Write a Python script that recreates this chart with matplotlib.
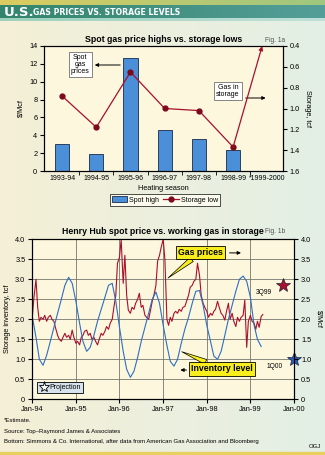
import numpy as np
import pandas as pd
import matplotlib
matplotlib.use('Agg')
import matplotlib.pyplot as plt
import matplotlib.dates as mdates
from matplotlib.lines import Line2D

plt.rcParams['font.family'] = ['Liberation Sans', 'DejaVu Sans']
plt.rcParams['font.size'] = 5.3

# верхний график: пики цены и минимумы запасов по сезонам
seasons = ['1993-94', '1994-95', '1995-96', '1996-97', '1997-98', '1998-99', '*1999-2000']
spot_high = [3.0, 1.9, 12.7, 4.6, 3.6, 2.4]
storage_low = [0.88, 1.18, 0.65, 1.00, 1.02, 1.37]
storage_est = 0.40

# нижний график: цена Henry Hub (1-е и 15-е число месяца), с янв. 1994
price = [
    2.05, 2.55, 3.00, 2.30, 1.95, 2.05, 2.00, 2.10, 1.95, 2.05, 2.10, 2.00,
    1.95, 1.78, 1.60, 1.50, 1.45, 1.55, 1.65, 1.55, 1.60, 1.50, 1.73, 1.55,
    1.40, 1.45, 1.36, 1.55, 1.60, 1.70, 1.73, 1.60, 1.65, 1.50, 1.55, 1.45,
    1.36, 1.50, 1.65, 1.60, 1.70, 1.82, 1.75, 1.90, 2.00, 2.30, 2.60, 3.40,
    3.55, 4.00, 2.90, 3.60, 2.60, 2.23, 2.15, 2.30, 2.25, 2.40, 2.50, 2.65,
    2.30, 2.35, 2.10, 2.05, 2.00, 2.20, 2.45, 2.60, 2.85, 3.45, 3.60, 3.80,
    4.00, 3.50, 2.00, 1.85, 2.05, 1.95, 2.15, 2.20, 2.15, 2.25, 2.20, 2.30,
    2.32, 2.45, 2.60, 2.80, 2.85, 2.95, 3.00, 3.40, 3.10, 2.60, 2.40, 2.30,
    2.20, 2.05, 2.15, 2.10, 2.20, 2.25, 2.45, 2.30, 2.15, 2.10, 1.98, 2.20,
    2.40, 2.00, 2.15, 1.95, 1.82, 2.05, 1.95, 2.05, 2.10, 2.48, 1.30, 1.95,
    2.10, 1.95, 1.90, 1.75, 1.95, 1.80, 2.07, 2.12,
]
# запасы газа в хранилищах, tcf (1-е число месяца), с янв. 1994
storage = [
    2.07, 1.55, 1.00, 0.85, 1.10, 1.45, 1.80, 2.15, 2.50, 2.85, 3.05, 2.90,
    2.45, 1.90, 1.45, 1.20, 1.30, 1.60, 1.95, 2.25, 2.55, 2.85, 2.90, 2.45,
    1.80, 1.20, 0.75, 0.55, 0.70, 1.05, 1.45, 1.80, 2.15, 2.50, 2.68, 2.40,
    1.85, 1.35, 0.95, 0.83, 1.00, 1.40, 1.75, 2.05, 2.40, 2.70, 2.72, 2.35,
    1.85, 1.45, 1.08, 1.00, 1.20, 1.60, 2.00, 2.35, 2.70, 3.00, 3.08, 2.95,
    2.55, 1.85, 1.50, 1.32,
]
price_proj = ('1999-10-01', 2.85, '3Q99')
storage_proj = ('2000-01-01', 1.00, '1Q00')

RED = '#A8102C'
BLUE = '#2C6FC4'
CREAM = '#FDF7DE'

fig = plt.figure(figsize=(3.25, 4.55), dpi=100)

# фон
bg = fig.add_axes([0, 0, 1, 1], zorder=-10)
gx = np.linspace(0, 1, 200)
c1 = np.array([0.96, 0.94, 0.84])
c2 = np.array([0.89, 0.94, 0.90])
grad = c1[None, None, :] * (1 - gx[None, :, None]) + c2[None, None, :] * gx[None, :, None]
bg.imshow(np.repeat(grad, 10, axis=0), aspect='auto', extent=[0, 1, 0, 1])
bg.axis('off')

# шапка
ban = fig.add_axes([0, 1 - 21 / 455, 1, 21 / 455], zorder=-5)
rows = np.zeros((21, 200, 3))
for i in range(21):
    if i < 5:
        a = np.array([0.86, 0.80, 0.38]); b = np.array([0.62, 0.78, 0.50])
    elif i < 18:
        a = np.array([0.20, 0.52, 0.42]); b = np.array([0.33, 0.62, 0.60])
    else:
        a = np.array([0.62, 0.82, 0.74]); b = np.array([0.75, 0.88, 0.85])
    rows[i] = a[None, :] * (1 - gx[:, None]) + b[None, :] * gx[:, None]
ban.imshow(rows, aspect='auto', extent=[0, 1, 0, 1])
ban.axis('off')
fig.text(4 / 325, 1 - 12 / 455, 'U.S.', color='white', fontsize=9.5,
         fontweight='bold', va='center', family='DejaVu Sans')
fig.text(33 / 325, 1 - 12.5 / 455, 'GAS PRICES VS. STORAGE LEVELS', color='white',
         fontsize=5.6, fontweight='bold', va='center', family='DejaVu Sans')
fig.patches.append(plt.Rectangle((0, 0), 1, 3 / 455, transform=fig.transFigure,
                                 color='#E8D060', zorder=-4))

# ---------- верхний график ----------
ax = fig.add_axes([44.3 / 325, 1 - 171 / 455, 238.4 / 325, 125 / 455])
ax.set_facecolor(CREAM)
x = np.arange(len(seasons))
ax.bar(x[:len(spot_high)], spot_high, width=0.41, color='#4A8FD8',
       edgecolor='#1A2A4A', linewidth=0.6, label='Spot high', zorder=2)
ax.set_xlim(-0.52, 6.45)
ax.set_ylim(0, 14)
ax.set_yticks(range(0, 15, 2))
ax.set_xticks(x)
ax.set_xticklabels(seasons, fontsize=5)
ax.set_xticks(x[:-1] + 0.5, minor=True)
ax.tick_params(axis='x', which='major', length=0, pad=3)
ax.tick_params(axis='x', which='minor', length=3, direction='out')
ax.tick_params(axis='y', length=3, pad=2)
ax.set_ylabel('$/Mcf', labelpad=3)
ax.set_xlabel('Heating season', labelpad=2)
ax.set_title('Spot gas price highs vs. storage lows', fontsize=6.3,
             fontweight='bold', pad=3)
fig.text(275 / 325, 1 - 40 / 455, 'Fig. 1a', fontsize=4.8, color='#555555',
         ha='center', va='center')

ax_r = ax.twinx()
ax_r.set_ylim(1.6, 0.4)
ax_r.set_yticks(np.arange(0.4, 1.61, 0.2))
ax_r.set_yticklabels([f'{v:.1f}' for v in np.arange(0.4, 1.61, 0.2)])
ax_r.tick_params(axis='y', length=3, pad=2)
ax_r.set_ylabel('Storage, tcf', rotation=270, labelpad=8)
ax_r.plot(x[:len(storage_low)], storage_low, color=RED, lw=0.9, marker='o',
          ms=3.5, mfc='#7A0A1C', mec='#7A0A1C', label='Storage low', zorder=3)
ax_r.annotate('', xy=(x[-1] - 0.15, storage_est), xytext=(x[-2], storage_low[-1]),
              arrowprops=dict(arrowstyle='-|>', color=RED, lw=0.9,
                              mutation_scale=6, shrinkA=0, shrinkB=0),
              annotation_clip=False)

ax.text(0.15, 0.85, 'Spot\ngas\nprices', transform=ax.transAxes, ha='center',
        va='center', fontsize=5, linespacing=1.0,
        bbox=dict(boxstyle='square,pad=0.3', fc='white', ec='#555555', lw=0.5))
ax.annotate('', xy=(0.2, 0.848), xytext=(0.33, 0.848), xycoords='axes fraction',
            arrowprops=dict(arrowstyle='-|>', color='black', lw=0.7, mutation_scale=5))
ax.text(0.77, 0.64, 'Gas in\nstorage', transform=ax.transAxes, ha='center',
        va='center', fontsize=5, linespacing=1.0,
        bbox=dict(boxstyle='square,pad=0.3', fc='white', ec='#555555', lw=0.5))
ax.annotate('', xy=(0.94, 0.584), xytext=(0.833, 0.584), xycoords='axes fraction',
            arrowprops=dict(arrowstyle='-|>', color='black', lw=0.7, mutation_scale=5))

h1, l1 = ax.get_legend_handles_labels()
h2, l2 = ax_r.get_legend_handles_labels()
leg = ax.legend(h1 + h2, l1 + l2, loc='center', bbox_to_anchor=(0.506, -0.232),
                ncol=2, fontsize=5, frameon=True, fancybox=False,
                handlelength=2.2, handleheight=0.8, columnspacing=0.6,
                borderpad=0.3, handletextpad=0.3)
leg.get_frame().set_edgecolor('black')
leg.get_frame().set_facecolor('#FFFDF2')
leg.get_frame().set_linewidth(0.6)

# ---------- нижний график ----------
ax2 = fig.add_axes([32.3 / 325, 1 - 399.3 / 455, 261.7 / 325, 160 / 455])
ax2.set_facecolor(CREAM)
pdates = pd.date_range('1994-01-01', periods=len(price), freq='SMS')
sdates = pd.date_range('1994-01-01', periods=len(storage), freq='MS')
ax2.plot(pdates, price, color=RED, lw=0.8, zorder=3)
ax2.plot(sdates, storage, color=BLUE, lw=0.8, zorder=3)
ax2.set_xlim(pd.Timestamp('1994-01-01'), pd.Timestamp('2000-01-01'))
ax2.set_ylim(0, 4)
yt = np.arange(0, 4.01, 0.5)
ylab = ['0'] + [f'{v:.1f}' for v in yt[1:]]
ax2.set_yticks(yt)
ax2.set_yticklabels(ylab)
ax2.xaxis.set_major_locator(mdates.YearLocator())
ax2.xaxis.set_major_formatter(mdates.DateFormatter('%b-%y'))
ax2.grid(True, color='#77776E', lw=0.6)
ax2.set_axisbelow(True)
ax2.tick_params(length=3, pad=2)
ax2.set_ylabel('Storage inventory, tcf', labelpad=3)
ax2.set_title('Henry Hub spot price vs. working gas in storage', fontsize=6.3,
              fontweight='bold', pad=4)
fig.text(275 / 325, 1 - 232 / 455, 'Fig. 1b', fontsize=4.8, color='#555555',
         ha='center', va='center')
ax2_r = ax2.twinx()
ax2_r.set_ylim(0, 4)
ax2_r.set_yticks(yt)
ax2_r.set_yticklabels(ylab)
ax2_r.tick_params(length=3, pad=2)
ax2_r.set_ylabel('$/Mcf', rotation=270, labelpad=8)

# прогнозы
for (d, v, lab), col in [(price_proj, '#A8102C'), (storage_proj, '#2060B8')]:
    ax2.plot(pd.Timestamp(d), v, marker='*', ms=10, color=col, mec='#202040',
             mew=0.5, clip_on=False, zorder=6)
    ax2.annotate(lab, xy=(pd.Timestamp(d), v), xytext=(-14, -5),
                 textcoords='offset points', fontsize=4.8, ha='center', va='center')

# выноски
ax2.annotate('Gas prices', xy=(0.5185, 0.758), xycoords='axes fraction',
             xytext=(0.643, 0.9175), textcoords='axes fraction', ha='center',
             va='center', fontsize=6.3, fontweight='bold',
             bbox=dict(boxstyle='square,pad=0.25', fc='#F8EE1E', ec='black', lw=0.6),
             arrowprops=dict(arrowstyle='wedge,tail_width=0.6', fc='#F8EE1E',
                             ec='black', lw=0.5, shrinkA=0, shrinkB=0), zorder=7)
ax2.annotate('', xy=(0.808, 0.915), xytext=(0.743, 0.915), xycoords='axes fraction',
             arrowprops=dict(arrowstyle='-|>', color='black', lw=0.7, mutation_scale=5))
ax2.annotate('Inventory level', xy=(0.571, 0.2975), xycoords='axes fraction',
             xytext=(0.725, 0.19), textcoords='axes fraction', ha='center',
             va='center', fontsize=6.3, fontweight='bold',
             bbox=dict(boxstyle='square,pad=0.25', fc='#F8EE1E', ec='black', lw=0.6),
             arrowprops=dict(arrowstyle='wedge,tail_width=0.6', fc='#F8EE1E',
                             ec='black', lw=0.5, shrinkA=0, shrinkB=0), zorder=7)
ax2.annotate('', xy=(0.555, 0.183), xytext=(0.6, 0.183), xycoords='axes fraction',
             arrowprops=dict(arrowstyle='-|>', color='black', lw=0.7, mutation_scale=5))

star = Line2D([], [], marker='*', ls='none', ms=8, mfc='white', mec='black', mew=0.6)
leg2 = ax2.legend([star], ['Projection'], loc='lower left', fontsize=5,
                  frameon=True, fancybox=False, borderpad=0.35, handletextpad=0.2,
                  handlelength=1.2, bbox_to_anchor=(0.005, 0.015))
leg2.get_frame().set_facecolor('#D6E2EC')
leg2.get_frame().set_edgecolor('black')
leg2.get_frame().set_linewidth(0.6)
leg2.get_frame().set_alpha(1)

# подписи внизу
fig.text(4 / 325, 1 - 421 / 455, '*Estimate.', fontsize=4.3, va='center')
fig.text(4 / 325, 1 - 431 / 455, 'Source: Top–Raymond James & Associates',
         fontsize=4.3, va='center')
fig.text(4 / 325, 1 - 441 / 455,
         'Bottom: Simmons & Co. International, after data from American Gas Association and Bloomberg',
         fontsize=4.3, va='center')
fig.text(321 / 325, 1 - 446 / 455, 'OGJ', fontsize=4.3, ha='right', va='center')

fig.savefig('out.png', dpi=100)
